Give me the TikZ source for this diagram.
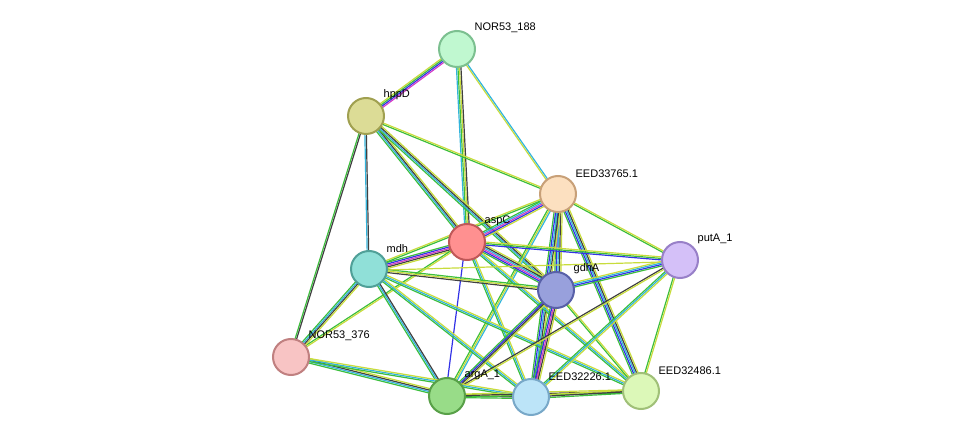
\documentclass[tikz,border=0pt]{standalone}
\usepackage{fontspec}
\setmainfont{Liberation Sans}
\usetikzlibrary{calc,backgrounds}

\definecolor{cgrn}{HTML}{3CBE3C}
\definecolor{cyel}{HTML}{C8DC3C}
\definecolor{cblu}{HTML}{3232E6}
\definecolor{ccya}{HTML}{32B4DC}
\definecolor{cblk}{HTML}{404040}
\definecolor{cmag}{HTML}{D23CC8}

\tikzset{
  prot/.style={circle, draw, line width=2pt, minimum size=36pt, inner sep=0pt},
  lbl/.style={anchor=south west, inner sep=0pt, xshift=4pt, yshift=3pt, font=\fontsize{11}{12}\selectfont},
  lnk/.style={line width=1.2pt}
}

% parallel coloured lines between two nodes
\newcommand\lnk[3]{%
  \foreach \c [count=\i] in {#3}{%
    \draw[lnk, \c] ($(#1)!{(\i-2)*1.5pt}!90:(#2)$) -- ($(#2)!{(\i-2)*1.5pt}!-90:(#1)$);}}

\begin{document}
\begin{tikzpicture}[x=1pt, y=-1pt]
\useasboundingbox (0,0) rectangle (975,443);
\node[prot, fill={rgb,255:red,192;green,248;blue,208}, draw={rgb,255:red,124;green,192;blue,144}, label={[lbl]45:NOR53\_188}] (nor188) at (457,49) {};
\node[prot, fill={rgb,255:red,220;green,220;blue,150}, draw={rgb,255:red,160;green,160;blue,80}, label={[lbl]45:hppD}] (hppd) at (366,116) {};
\node[prot, fill={rgb,255:red,252;green,224;blue,192}, draw={rgb,255:red,200;green,160;blue,120}, label={[lbl]45:EED33765.1}] (eed765) at (558,194) {};
\node[prot, fill={rgb,255:red,255;green,144;blue,144}, draw={rgb,255:red,192;green,88;blue,88}, label={[lbl]45:aspC}] (aspc) at (467,242) {};
\node[prot, fill={rgb,255:red,144;green,224;blue,216}, draw={rgb,255:red,80;green,160;blue,152}, label={[lbl]45:mdh}] (mdh) at (369,269) {};
\node[prot, fill={rgb,255:red,152;green,160;blue,220}, draw={rgb,255:red,88;green,96;blue,168}, label={[lbl]45:gdhA}] (gdha) at (556,290) {};
\node[prot, fill={rgb,255:red,212;green,192;blue,248}, draw={rgb,255:red,152;green,128;blue,200}, label={[lbl]45:putA\_1}] (puta) at (680,260) {};
\node[prot, fill={rgb,255:red,248;green,196;blue,196}, draw={rgb,255:red,192;green,128;blue,128}, label={[lbl]45:NOR53\_376}] (nor376) at (291,357) {};
\node[prot, fill={rgb,255:red,152;green,220;blue,136}, draw={rgb,255:red,88;green,160;blue,72}, label={[lbl]45:argA\_1}] (arga) at (447,396) {};
\node[prot, fill={rgb,255:red,188;green,228;blue,248}, draw={rgb,255:red,120;green,168;blue,200}, label={[lbl]45:EED32226.1}] (eed226) at (531,397) {};
\node[prot, fill={rgb,255:red,220;green,248;blue,184}, draw={rgb,255:red,160;green,192;blue,120}, label={[lbl]45:EED32486.1}] (eed486) at (641,391) {};
\begin{scope}[on background layer]
\lnk{nor188}{hppd}{cyel,cgrn,cblu,cmag}
\lnk{nor188}{aspc}{ccya,cgrn,cyel,cblk}
\lnk{nor188}{eed765}{cyel,ccya}
\lnk{hppd}{aspc}{cgrn,ccya,cblk,cyel}
\lnk{hppd}{eed765}{cgrn,cyel}
\lnk{hppd}{mdh}{ccya,cblk}
\lnk{hppd}{nor376}{cgrn,cblk}
\lnk{hppd}{gdha}{cgrn,ccya,cblk,cyel}
\lnk{eed765}{aspc}{cgrn,ccya,cmag,cblu,cyel}
\lnk{eed765}{mdh}{cyel,cgrn}
\lnk{eed765}{gdha}{cgrn,cblu,ccya,cblk,cyel}
\lnk{eed765}{puta}{cgrn,cyel}
\lnk{eed765}{arga}{cgrn,cyel,ccya}
\lnk{eed765}{eed226}{cgrn,cblu,ccya,cblk,cyel}
\lnk{eed765}{eed486}{cgrn,cblu,ccya,cblk,cyel}
\lnk{aspc}{mdh}{cgrn,cblu,cmag,cblk,cyel}
\lnk{aspc}{gdha}{cgrn,cblu,cmag,ccya,cblk,cyel}
\lnk{aspc}{puta}{cblu,cgrn,cyel}
\lnk{aspc}{arga}{cblu}
\lnk{aspc}{eed226}{cgrn,ccya,cyel}
\lnk{aspc}{eed486}{cgrn,ccya,cyel}
\lnk{aspc}{nor376}{cgrn,cyel}
\lnk{mdh}{gdha}{cblk,cyel,cgrn}
\lnk{mdh}{puta}{cyel}
\lnk{mdh}{nor376}{cgrn,ccya,cblk,cyel}
\lnk{mdh}{arga}{cgrn,ccya,cblk}
\lnk{mdh}{eed226}{cgrn,ccya,cyel}
\lnk{mdh}{eed486}{cgrn,ccya,cyel}
\lnk{gdha}{puta}{cgrn,cblu,ccya,cyel}
\lnk{gdha}{arga}{cgrn,cblu,cblk,cyel}
\lnk{gdha}{eed226}{cgrn,cblu,cmag,cblk,cyel}
\lnk{gdha}{eed486}{cgrn,cyel}
\lnk{puta}{arga}{cblk,cyel}
\lnk{puta}{eed226}{cgrn,ccya,cyel}
\lnk{puta}{eed486}{cgrn,cyel}
\lnk{nor376}{arga}{cgrn,ccya,cblk,cyel}
\lnk{nor376}{eed226}{cgrn,ccya,cyel}
\lnk{arga}{eed226}{cgrn,cblk,cyel}
\lnk{arga}{eed486}{cgrn,cblk,cyel}
\lnk{eed226}{eed486}{cgrn,cblk,cyel}
\end{scope}
\end{tikzpicture}
\end{document}
